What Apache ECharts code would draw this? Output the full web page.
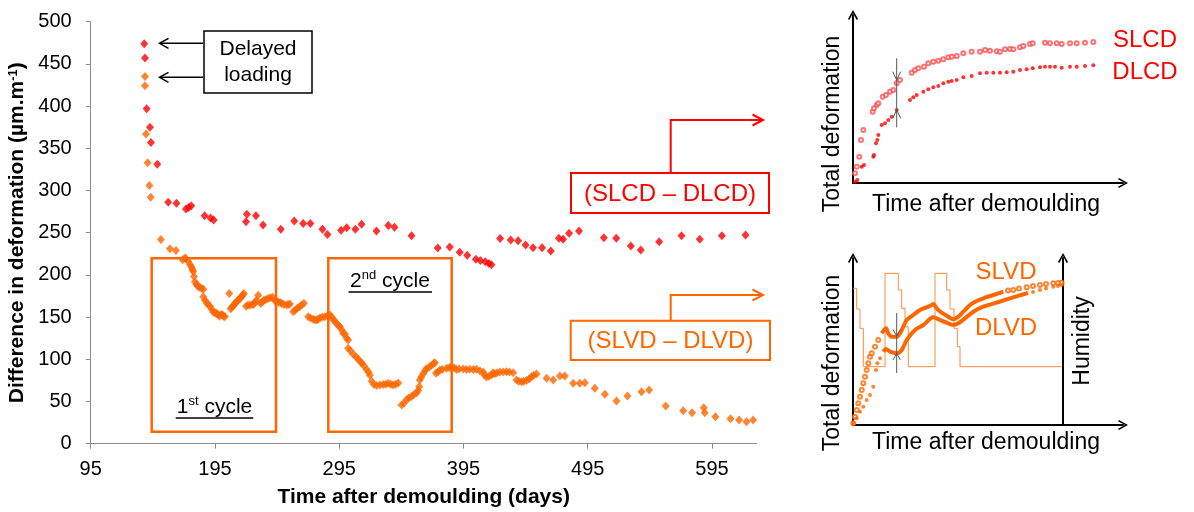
<!DOCTYPE html>
<html><head><meta charset="utf-8">
<script src="https://cdn.jsdelivr.net/npm/echarts@6/dist/echarts.min.js"></script>
<style>html,body{margin:0;padding:0;background:#fff}#c{width:1194px;height:512px}</style>
</head><body><div id="c"></div>
<script>
const FONT = "'Liberation Sans', Arial, sans-serif";
const RED = '#FF0000';
const ORANGE = '#FF6600';
const HUM = '#FF8A3D';

// ---------- main chart ----------
const xTickValues = [95, 195, 295, 395, 495, 595];

// (SLCD - DLCD): [days after demoulding, difference µm/m]
const lcPoints = [
  [138.1,474],[138.7,457],[140,397],[142.7,375],[143.5,357],[148.6,331],[157.4,286],[164,285],
  [171.7,278],[173.8,280],[175.9,282],[186.7,270],[191.5,267.5],[194,265],[220,263],[220.7,272],
  [228,270],[233.7,259],[248,254],[258.8,264],[266,261],[271.8,261],[281.5,254],[285.5,248],
  [296.5,253],[301,256],[308,254],[313,260],[325,252],[334.5,258.5],[339.5,256.5],[353.2,246.4],
  [374.3,231.8],[384,233.2],[392,226.7],[398,223.2],[405,218.5],[408.6,217],[412.6,215.5],[415.5,213.5],
  [417.5,212],[424.5,243],[433,241.3],[439,240.5],[445,235.4],[451,232.3],[458.3,232.3],[465.3,228.3],
  [471.8,243.4],[475.2,242.2],[480,249.3],[488,252],[508,244],[518,243.4],[529.7,234.2],[537.7,229.5],
  [552.5,239.3],[570.5,246.4],[585.2,242.2],[603,246.4],[622,247.3]
];

// (SLVD - DLVD)
const vdPoints = [
  [138.7,435],[138.7,424],[139.5,367],[140.8,333],[142.2,306],[143.3,292],[151.5,242],[158.8,231],
  [163.6,229],[169,218],[170.9,220],[171.7,219],[173.5,216],[175,212],[176.2,209],[177,206],
  [177.5,204],[178.1,198],[178.9,192],[180,189],[180.8,187],[182,186],[183,185],[184.5,184],[185.6,183],
  [185.6,174],[187,170],[188.3,167],[189.5,165],[191,163],[192.5,159],[193.6,156],[195,155],
  [196.4,154.5],[197.5,153],[198.5,151],[200,153],[201.2,152.5],[202,151],[203,150.5],[206.5,178],
  [207.6,160],[208.5,161.5],[209.5,163],[210.3,164.5],[211.1,166],[212,167.5],[213,169],[214,170.5],[215.1,172],
  [216,173.5],[216.8,175],[217.5,176.5],[218.3,178],[220,163],
  [221.5,164],[223.2,164.4],[225,165],[226.4,165.6],[227.5,168],[228.5,170],[229.8,176],[231.8,166],[233,168],
  [234.4,170],[236,171],[237.9,172],[239.5,173],[241.4,173.5],[243.3,169.4],[244.5,169],[246,168],
  [247.5,167],[248.7,166.4],[250.5,165],[252.7,164.3],[254,165],[255.3,165.5],[258,156.4],[259.5,158],
  [261.2,160.4],[263,162],[264.7,164.3],[266.6,166.4],[270,150.5],[272,149],[274.1,147.4],[275.5,147],
  [276.8,146.6],[278,147.5],[279.5,149],[281.5,150],[283.5,150.5],[285.5,151.5],[287.5,152.5],[289,150],
  [290.2,147],[291.6,145],[293,142],[294.5,140],[295.6,138.6],[297,135],[298.2,131],[299.6,130],
  [301,125],[302.2,123],[302.2,113],[304,110],[306.3,106],[308.5,103],[310.3,100],[312,97],
  [313.5,95],[315,92],[317,88],[318.5,85],[319.7,81],[321.1,74],[323,70],[325.1,69],
  [327.7,69.5],[330.4,70],[332.5,70.5],[334.5,71.5],[336.5,70.5],[338.4,69.5],[340.5,70.5],[342.5,72],
  [345.2,46],[347,48],[349.2,52],[351,54],[353.2,56],[355,58],[357.2,60],[358.5,63],
  [359.4,67.5],[359.9,75.5],[361,79],[362.6,83],[364,86],[365.3,89],[367.5,91],[369.3,93],
  [371,95],[372,96],[372.8,83.4],[374.5,85],[376,87.3],[378,88],[381.4,89.3],[383.5,90],
  [385.4,91.2],[387.5,90],[389.4,88],[391.5,88.5],[394.8,88.5],[397.5,88],[400.1,88.2],[403,88],
  [405.5,88.2],[408.3,86],[410.9,85],[412,81],[413.6,79],[415.5,80],[417.6,81.5],[418.9,84],
  [420.3,83],[422,84],[424.3,85],[427,85],[429.7,85.3],[432,85],[435,84],[437.7,75.5],
  [439.5,74],[441.7,73.5],[443.5,74],[445.8,75],[448,77],[449.8,79.4],[451.5,81],[453.8,82.6],
  [461.9,77.5],[467.2,75.5],[472.6,80.2],[476.6,80.2],[483.3,71.6],[488.6,71.6],[492.7,72.3],[500.7,65.6],
  [508.8,58.5],[518.2,50.6],[527,56.5],[538.3,61.6],[544.4,63.6],[557.8,44.7],[571.8,39.1],[579,36.7],
  [588.4,42.7],[589.2,36.7],[597.8,32],[609.9,29.6],[616.8,28.1],[622.8,26.1],[628.1,28.1]
];

// ---------- schematic insets (arbitrary units) ----------
const slcdPoints = [
  [2,9.7],[3.7,16.3],[6.3,26.3],[8,43],[10.3,53],[19.7,71.3],[21,74.7],[23.7,78],[25.3,79.7],[29.7,86.3],
  [33,88],[37,91.3],[40.3,93],[43.7,99.7],[47,103],[58.7,110.3],[62,113],[65.3,114.7],[71,116.3],[75.3,119.7],
  [80.3,121.3],[85.3,122.3],[90.3,123.7],[95.3,125.7],[98.7,126.3],[103.7,127],[110.3,129.7],[118.7,131.3],
  [127,131.3],[132,133],[137,132.3],[143.7,131.7],[147,131.3],[152,133.7],[157,134],[160.3,133.7],[167,135.7],
  [170.3,137],[177,139],[179.7,139.7],[192,140.3],[197,139.7],[203.7,139.7],[208.7,139],[217,139.7],
  [223.7,139.7],[232,140.3],[240.3,141]
];
const dlcdPoints = [
  [2,1.3],[4.3,3],[8.7,16.3],[11,18],[20.3,26.3],[21,28],[23,39.7],[24.3,43],[25.3,48],[28.7,58],
  [32,59.7],[35.3,63],[38.7,66.3],[43.7,73],[57,83],[60.3,85.7],[63.7,88],[70.3,91.3],[75.3,93.7],
  [80.3,95.7],[85.3,97],[90.3,99.7],[95.3,101.3],[98.7,102],[103.7,103],[110.3,105.7],[118.7,107],
  [127,109.7],[133.7,110.3],[140.3,110.3],[147,110.3],[153.7,110.7],[160.3,111.3],[167,113],[173.7,113.7],
  [179.7,114.7],[187,115.7],[192,116.3],[197,116.3],[202,116.3],[208.7,115.3],[217,116.3],[223.7,116.3],
  [232,117],[240.3,117.7]
];
const humidityPoints = [
  [0.3,136.7],[3.7,136.7],[3.7,116],[7,116],[7,96.7],[10.3,96.7],[10.3,58.3],[32,58.3],[32,151.7],
  [45.3,151.7],[45.3,135],[48.7,135],[48.7,116.7],[52,116.7],[52,98.3],[55.3,98.3],[55.3,58.3],[82,58.3],
  [82,151.7],[93.7,151.7],[93.7,135],[97,135],[97,116],[101,116],[101,96.7],[104.3,96.7],[104.3,78.3],
  [107,78.3],[107,58.3],[208.7,58.3]
];
const slvdDots = [
  [0.3,1.7],[2,8.3],[3.7,15],[5.3,21.7],[7,28.3],[8.7,35],[10.3,41.7],[12,48.3],[13.7,55],[15.3,61.7],
  [17,68.3],[18.7,71.7],[22,78.3],[25.3,85],[155,134.5],[160.3,135],[166,136.5],[173.7,137.7],
  [180,139],[187,140],[193,141],[200.3,141.7],[205,142],[208.7,142.3]
];
const slvdLine = [
  [28.7,91.7],[31,95],[33,96.7],[35.3,91.7],[38.7,88.3],[43.7,88.3],[47,91.7],[50.3,98.3],[53.7,105],
  [60.3,110],[67,115],[73.7,117.7],[78.7,120],[80.3,121],[83.7,116.7],[88.7,112.3],[95.3,108.3],
  [100.3,105.7],[105.3,108.3],[110.3,113.3],[117,120],[123.7,124],[130.3,126.7],[140.3,130],[150.3,133.3]
];
const dlvdDots = [
  [0.3,1.7],[3.7,6.7],[7,13.3],[10.3,18.3],[13.7,25],[17,30],[20.3,38.3],[23,55],[24.3,61.7],[27,66.7],
  [180,133],[187,135],[193,136.5],[200.3,138.3],[205,139],[208.7,140]
];
const dlvdLine = [
  [30.3,73.3],[33,76],[37,73.3],[43.7,71.7],[48.7,75],[53.7,85],[62,95],[70.3,100],[80.3,107.7],
  [87,105],[93.7,102.3],[100.3,100],[105.3,101.7],[112,106.7],[120.3,113.3],[130.3,118.3],[143.7,122.3],
  [157,126.7],[168,130],[175,132]
];

const chevronUp = 'path://M5,0 L10,9 L8.6,9.9 L5,2.9 L1.4,9.9 L0,9 Z';
function arrowLine() {
  return { show: true, onZero: false, lineStyle: { color: '#000', width: 2 }, symbol: ['none', chevronUp], symbolSize: [12, 10] };
}
function bareAxis(gridIndex, min, max, extra) {
  return Object.assign({
    type: 'value', gridIndex, min, max,
    axisLine: arrowLine(), axisTick: { show: false }, axisLabel: { show: false }, splitLine: { show: false }
  }, extra || {});
}

function txt(x, y, text, size, color, opts) {
  return Object.assign({
    type: 'text', x, y, z: 50,
    style: { text, fontFamily: 'Liberation Sans, Arial', fontSize: size, fill: color, align: 'center', verticalAlign: 'middle' }
  }, opts || {});
}
function pline(points, color, width) {
  return { type: 'polyline', z: 40, shape: { points }, style: { stroke: color, lineWidth: width, fill: null } };
}
function box(x, y, w, h, color, width) {
  return { type: 'rect', z: 40, shape: { x, y, width: w, height: h }, style: { stroke: color, lineWidth: width, fill: null } };
}

const graphics = [
  // Delayed loading
  box(204, 31, 108, 62, '#000', 1.5),
  { type: 'text', x: 258, y: 62, z: 50, style: { text: 'Delayed\nloading', fontFamily: 'Liberation Sans, Arial', fontSize: 21, fill: '#000', align: 'center', verticalAlign: 'middle', lineHeight: 26 } },
  pline([[203, 43.3], [160, 43.3]], '#000', 1.5),
  pline([[168.5, 38.3], [159.5, 43.3], [168.5, 48.3]], '#000', 1.5),
  pline([[203, 77.3], [160, 77.3]], '#000', 1.5),
  pline([[168.5, 72.3], [159.5, 77.3], [168.5, 82.3]], '#000', 1.5),
  // SLCD - DLCD label
  box(571, 173, 198, 40, RED, 2),
  txt(670, 194, '(SLCD – DLCD)', 24, RED),
  pline([[670.7, 173], [670.7, 120], [762, 120]], RED, 2),
  pline([[752.5, 114.5], [763, 120], [752.5, 125.5]], RED, 2),
  // SLVD - DLVD label
  box(570.7, 320.7, 199.3, 39.3, ORANGE, 2),
  txt(670.5, 341, '(SLVD – DLVD)', 24, ORANGE),
  pline([[670.7, 320.7], [670.7, 295], [762, 295]], ORANGE, 2),
  pline([[752.5, 289.5], [763, 295], [752.5, 300.5]], ORANGE, 2),
  // cycles
  box(151.7, 258.3, 124.3, 173.4, ORANGE, 2.5),
  box(328.3, 258.3, 123.4, 173.4, ORANGE, 2.5),
  { type: 'text', x: 214.5, y: 407, z: 50, style: { text: '1{s|st} cycle', fontFamily: 'Liberation Sans, Arial', fontSize: 21, fill: '#000', align: 'center', verticalAlign: 'middle',
      rich: { s: { fontSize: 13, fontFamily: 'Liberation Sans, Arial', fill: '#000', verticalAlign: 'top', lineHeight: 24 } } } },
  pline([[175.7, 418], [253.3, 418]], '#000', 1.5),
  { type: 'text', x: 390, y: 281, z: 50, style: { text: '2{s|nd} cycle', fontFamily: 'Liberation Sans, Arial', fontSize: 21, fill: '#000', align: 'center', verticalAlign: 'middle',
      rich: { s: { fontSize: 13, fontFamily: 'Liberation Sans, Arial', fill: '#000', verticalAlign: 'top', lineHeight: 24 } } } },
  pline([[348.5, 292], [432, 292]], '#000', 1.5),
  // top inset texts
  txt(833, 124, 'Total deformation', 23, '#000', { rotation: Math.PI / 2 }),
  txt(986, 205, 'Time after demoulding', 23, '#000'),
  txt(1145, 40, 'SLCD', 24, RED),
  txt(1145, 72.5, 'DLCD', 24, RED),
  pline([[896.7, 58.3], [896.7, 127.3]], '#555', 1),
  pline([[892.7, 71.7], [896.7, 80], [900.7, 71.7]], '#555', 1),
  pline([[892.7, 118.3], [896.7, 110], [900.7, 118.3]], '#555', 1),
  // bottom inset texts
  txt(833, 363, 'Total deformation', 23, '#000', { rotation: Math.PI / 2 }),
  txt(1083, 341, 'Humidity', 23, '#000', { rotation: Math.PI / 2 }),
  txt(986, 443, 'Time after demoulding', 23, '#000'),
  txt(1006, 272, 'SLVD', 24, ORANGE),
  txt(1006, 328, 'DLVD', 24, ORANGE),
  pline([[896.7, 313], [896.7, 373]], '#555', 1),
  pline([[893, 329.5], [896.7, 336], [900.4, 329.5]], '#555', 1),
  pline([[893, 360], [896.7, 353.3], [900.4, 360]], '#555', 1)
];

const chart = echarts.init(document.getElementById('c'));
chart.setOption({
  animation: false,
  backgroundColor: '#fff',
  textStyle: { fontFamily: FONT },
  grid: [
    { left: 90.7, top: 21.7, width: 666, height: 422, containLabel: false, outerBoundsMode: 'none' },
    { left: 853, top: 15, width: 270, height: 168, containLabel: false, outerBoundsMode: 'none' },
    { left: 853, top: 258, width: 270, height: 167, containLabel: false, outerBoundsMode: 'none' },
    { left: 853, top: 258, width: 210, height: 167, containLabel: false, outerBoundsMode: 'none' }
  ],
  xAxis: [
    {
      type: 'value', gridIndex: 0, min: 95, max: 631,
      axisLine: { show: true, onZero: false, lineStyle: { color: '#8c8c8c', width: 1 } },
      axisTick: { show: true, length: 5, customValues: xTickValues, lineStyle: { color: '#8c8c8c' } },
      axisLabel: { customValues: xTickValues, fontSize: 20, color: '#000', margin: 16, fontFamily: FONT },
      splitLine: { show: false },
      name: 'Time after demoulding (days)', nameLocation: 'middle', nameGap: 43,
      nameTextStyle: { fontSize: 21, fontWeight: 'bold', color: '#000', fontFamily: FONT }
    },
    bareAxis(1, 0, 270),
    bareAxis(2, 0, 270),
    bareAxis(3, 0, 210, { show: false })
  ],
  yAxis: [
    {
      type: 'value', gridIndex: 0, min: 0, max: 500, interval: 50,
      axisLine: { show: true, onZero: false, lineStyle: { color: '#8c8c8c', width: 1 } },
      axisTick: { show: true, length: 5, lineStyle: { color: '#8c8c8c' } },
      axisLabel: { fontSize: 20, color: '#000', margin: 19, fontFamily: FONT },
      splitLine: { show: false },
      name: 'Difference in deformation (µm.m{s|-1})', nameLocation: 'middle', nameGap: 57,
      nameTextStyle: { fontSize: 21, fontWeight: 'bold', color: '#000', fontFamily: FONT,
        rich: { s: { fontSize: 13, fontWeight: 'bold', color: '#000', fontFamily: FONT, verticalAlign: 'top' } } }
    },
    bareAxis(1, 0, 168),
    bareAxis(2, 0, 167),
    bareAxis(3, 0, 167, { position: 'right' })
  ],
  series: [
    { name: 'SLCD – DLCD', type: 'scatter', xAxisIndex: 0, yAxisIndex: 0, data: lcPoints,
      symbol: 'diamond', symbolSize: [8, 9], itemStyle: { color: RED }, z: 5 },
    { name: 'SLVD – DLVD', type: 'scatter', xAxisIndex: 0, yAxisIndex: 0, data: vdPoints,
      symbol: 'diamond', symbolSize: [8, 9], itemStyle: { color: ORANGE }, z: 5 },
    { name: 'SLCD', type: 'scatter', xAxisIndex: 1, yAxisIndex: 1, data: slcdPoints,
      symbol: 'emptyCircle', symbolSize: 4, itemStyle: { color: '#FF5050', borderWidth: 1 } },
    { name: 'DLCD', type: 'scatter', xAxisIndex: 1, yAxisIndex: 1, data: dlcdPoints,
      symbol: 'circle', symbolSize: 4, itemStyle: { color: RED } },
    { name: 'Humidity', type: 'line', xAxisIndex: 3, yAxisIndex: 3, data: humidityPoints,
      showSymbol: false, lineStyle: { color: HUM, width: 1 } },
    { name: 'SLVD dots', type: 'scatter', xAxisIndex: 2, yAxisIndex: 2, data: slvdDots,
      symbol: 'emptyCircle', symbolSize: 4, itemStyle: { color: ORANGE, borderWidth: 1 } },
    { name: 'SLVD', type: 'line', xAxisIndex: 2, yAxisIndex: 2, data: slvdLine, smooth: 0.3,
      showSymbol: false, lineStyle: { color: ORANGE, width: 4 } },
    { name: 'DLVD dots', type: 'scatter', xAxisIndex: 2, yAxisIndex: 2, data: dlvdDots,
      symbol: 'circle', symbolSize: 4, itemStyle: { color: ORANGE } },
    { name: 'DLVD', type: 'line', xAxisIndex: 2, yAxisIndex: 2, data: dlvdLine, smooth: 0.3,
      showSymbol: false, lineStyle: { color: ORANGE, width: 4 } }
  ],
  graphic: { elements: graphics }
});
</script>
</body></html>
